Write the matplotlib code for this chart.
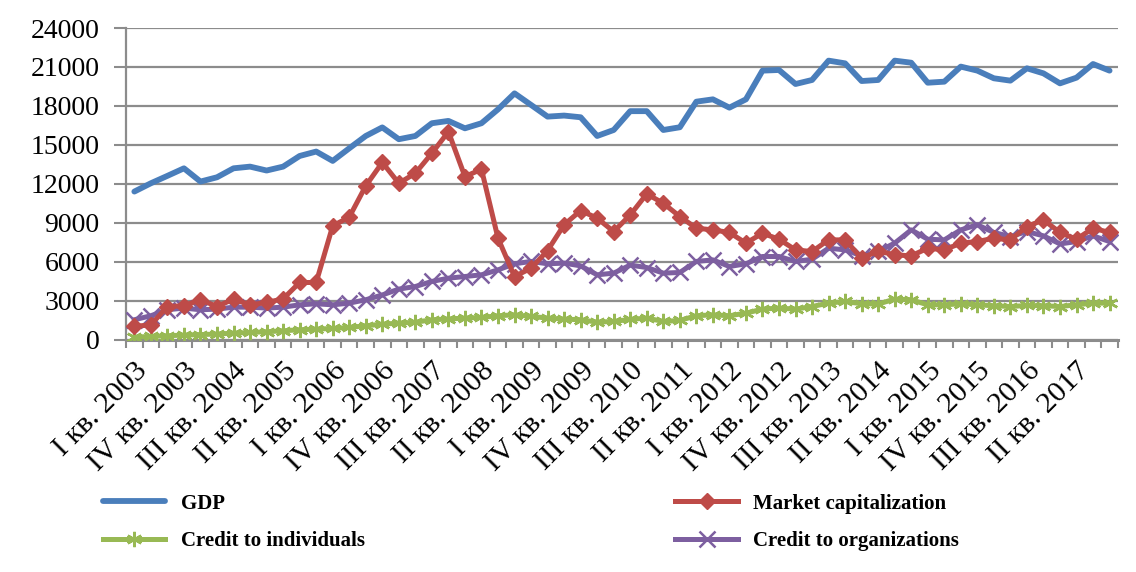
import matplotlib
matplotlib.use("Agg")
import matplotlib.pyplot as plt
import numpy as np

quarters = [f"{q} кв. {y}" for y in range(2003, 2018) for q in ["I", "II", "III", "IV"]]

gdp = [11410, 12050, 12620, 13200, 12180, 12510, 13200, 13330, 13030, 13330,
       14150, 14490, 13770, 14740, 15690, 16350, 15440, 15690, 16670, 16850,
       16280, 16670, 17740, 18970, 18080, 17180, 17260, 17130, 15690, 16150,
       17600, 17600, 16150, 16360, 18330, 18510, 17870, 18510, 20720, 20770,
       19690, 20000, 21490, 21280, 19920, 20000, 21490, 21330, 19790, 19870,
       21030, 20720, 20130, 19950, 20900, 20510, 19740, 20180, 21230, 20720]

market_cap = [1030, 1150, 2560, 2620, 3080, 2560, 3130, 2690, 2870, 3150,
              4410, 4410, 8770, 9440, 11850, 13650, 12050, 12820, 14360, 16020,
              12560, 13130, 7820, 4870, 5510, 6870, 8850, 9950, 9360, 8330,
              9610, 11230, 10510, 9490, 8590, 8460, 8260, 7440, 8200, 7740,
              6920, 6790, 7690, 7690, 6280, 6830, 6540, 6460, 7050, 6920,
              7440, 7560, 7820, 7690, 8720, 9230, 8260, 7740, 8590, 8260]

credit_ind = [200, 260, 310, 360, 400, 440, 510, 560, 620, 690,
              770, 820, 870, 950, 1080, 1200, 1280, 1350, 1540, 1600,
              1670, 1720, 1850, 1920, 1800, 1670, 1590, 1540, 1360, 1410,
              1570, 1670, 1410, 1490, 1850, 1920, 1850, 2050, 2360, 2440,
              2360, 2560, 2820, 2950, 2770, 2750, 3130, 3080, 2690, 2690,
              2770, 2690, 2620, 2560, 2640, 2620, 2560, 2690, 2820, 2820]

credit_org = [1540, 1850, 2310, 2440, 2310, 2360, 2510, 2510, 2440, 2510,
              2690, 2770, 2690, 2820, 3080, 3450, 3900, 4100, 4490, 4740,
              4870, 5000, 5380, 5850, 6030, 5850, 5900, 5690, 5000, 5130,
              5750, 5560, 5130, 5180, 6030, 6150, 5640, 5850, 6410, 6410,
              6030, 6200, 7050, 6920, 6460, 6800, 7440, 8460, 7740, 7690,
              8460, 8850, 8260, 7950, 8330, 8000, 7380, 7560, 8000, 7560]

yticks = [0, 3000, 6000, 9000, 12000, 15000, 18000, 21000, 24000]
label_step = 3

serif = ["Liberation Serif", "DejaVu Serif"]
plt.rcParams['font.family'] = serif

fig = plt.figure(figsize=(11.36, 5.72), dpi=100)
ax = fig.add_axes([0.111, 0.406, 0.873, 0.545])

x = np.arange(len(quarters))
c_gdp = "#4A7EBB"
c_mc = "#BE4B48"
c_ci = "#98B954"
c_co = "#7D5FA0"

l_gdp, = ax.plot(x, gdp, color=c_gdp, lw=4.2, solid_capstyle='round', label="GDP", zorder=5)
l_ci, = ax.plot(x, credit_ind, color=c_ci, lw=3.6, marker=(6, 2, 0), ms=11, mew=1.8,
                label="Credit to individuals", zorder=3)
l_co, = ax.plot(x, credit_org, color=c_co, lw=3.6, marker='x', ms=11, mew=1.8,
                label="Credit to organizations", zorder=4)
l_mc, = ax.plot(x, market_cap, color=c_mc, lw=3.6, marker='D', ms=8,
                label="Market capitalization", zorder=4)

ax.set_xlim(-0.5, len(quarters) - 0.5)
ax.set_ylim(0, 24000)
ax.set_yticks(yticks)
ax.set_yticklabels([str(v) for v in yticks], fontsize=20)
ax.yaxis.grid(True, color="#8C8C8C", lw=1.6)
ax.set_axisbelow(True)

# boundary ticks (major) and labels (minor)
ax.set_xticks(np.arange(-0.5, len(quarters), 1.0))
ax.set_xticklabels([])
lab_pos = x[::label_step]
ax.set_xticks(lab_pos, minor=True)
ax.set_xticklabels([quarters[i] for i in lab_pos], minor=True, rotation=45,
                   ha='right', va='top', rotation_mode='anchor', fontsize=21.5)
ax.tick_params(axis='x', which='major', length=6, width=1.5, color="#8C8C8C", direction='out')
ax.tick_params(axis='x', which='minor', length=0, pad=13)
ax.tick_params(axis='y', length=9, width=1.5, color="#8C8C8C", pad=10)

for s in ['top', 'right']:
    ax.spines[s].set_visible(False)
ax.spines['left'].set_color("#8C8C8C")
ax.spines['left'].set_linewidth(1.6)
ax.spines['bottom'].set_color("#8C8C8C")
ax.spines['bottom'].set_linewidth(2.2)

leg = fig.legend([l_gdp, l_ci, l_mc, l_co],
                 ["GDP", "Credit to individuals", "Market capitalization", "Credit to organizations"],
                 ncol=2, loc='upper left', bbox_to_anchor=(0.074, 0.17), frameon=False,
                 prop={'family': serif, 'weight': 'bold', 'size': 15},
                 handlelength=3.0, handletextpad=0.75, columnspacing=14.9, labelspacing=0.85,
                 bbox_transform=fig.transFigure)

fig.savefig("out.png", dpi=100)
